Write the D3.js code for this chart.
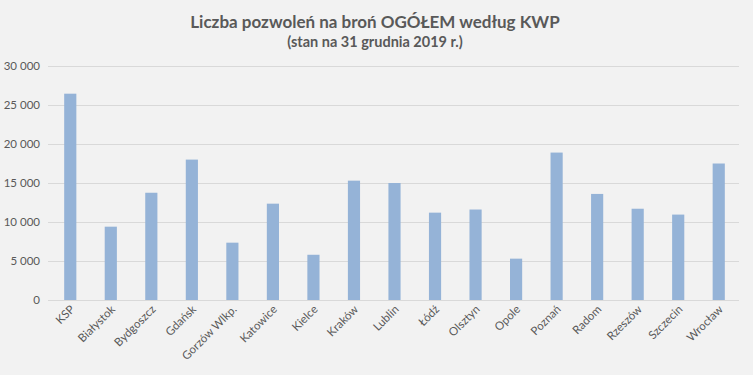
<!DOCTYPE html>
<html>
<head>
<meta charset="utf-8">
<script src="https://cdn.jsdelivr.net/npm/d3@7"></script>
<style>
  body { margin: 0; background: #f2f2f2; }
  text { font-family: Lato, "Open Sans", sans-serif; }
</style>
</head>
<body>
<script>
// dane
const kategorie = ["KSP", "Białystok", "Bydgoszcz", "Gdańsk", "Gorzów Wlkp.", "Katowice", "Kielce", "Kraków",
  "Lublin", "Łódź", "Olsztyn", "Opole", "Poznań", "Radom", "Rzeszów", "Szczecin", "Wrocław"]
const wartosci = [26450, 9400, 13750, 18000, 7350, 12350, 5800, 15300,
  15000, 11200, 11600, 5300, 18900, 13600, 11700, 10950, 17500]
const yTicks = [0, 5000, 10000, 15000, 20000, 25000, 30000]

const W = 753, H = 375
const m = { left: 50, right: 14, top: 66, bottom: 75 }

const svg = d3.select("body")
  .append("svg")
  .attr("width", W)
  .attr("height", H)
  .style("background-color", "#f2f2f2")

const x = d3.scaleBand()
  .domain(kategorie)
  .range([m.left, W - m.right])
  .paddingInner(0.7)
  .paddingOuter(0.35)

const y = d3.scaleLinear()
  .domain([0, 30000])
  .range([H - m.bottom, m.top])

const fmt = d => d === 0 ? "0" : d3.format(",")(d).replace(",", " ")

// siatka
svg.append("g")
  .selectAll("line")
  .data(yTicks)
  .enter()
  .append("line")
  .attr("x1", m.left - 2)
  .attr("x2", W - m.right)
  .attr("y1", d => Math.round(y(d)) + 0.5)
  .attr("y2", d => Math.round(y(d)) + 0.5)
  .attr("stroke", "#d9d9d9")
  .attr("stroke-width", 1)

// etykiety osi Y
const yAxis = svg.append("g")
  .attr("transform", `translate(${m.left - 10},0)`)
  .call(d3.axisLeft(y).tickValues(yTicks).tickFormat(fmt).tickSize(0).tickPadding(0))
yAxis.select(".domain").remove()
yAxis.selectAll("text")
  .attr("fill", "#595959")
  .style("font-size", "11.5px")

// słupki
svg.append("g")
  .selectAll("rect")
  .data(wartosci)
  .enter()
  .append("rect")
  .attr("x", (d, i) => x(kategorie[i]))
  .attr("y", d => y(d))
  .attr("width", x.bandwidth())
  .attr("height", d => y(0) - y(d))
  .attr("fill", "#95b3d7")

// etykiety osi X
const xAxis = svg.append("g")
  .attr("transform", `translate(0,${y(0)})`)
  .call(d3.axisBottom(x).tickSize(0).tickPadding(0))
xAxis.select(".domain").remove()
xAxis.selectAll("text")
  .attr("fill", "#595959")
  .style("font-size", "11.5px")
  .attr("text-anchor", "end")
  .attr("dy", null)
  .attr("transform", "translate(5,10) rotate(-45)")

// tytuł
svg.append("text")
  .attr("x", 375)
  .attr("y", 28)
  .attr("text-anchor", "middle")
  .attr("fill", "#595959")
  .style("font-size", "17px")
  .style("font-weight", "bold")
  .text("Liczba pozwoleń na broń OGÓŁEM według KWP")

svg.append("text")
  .attr("x", 375)
  .attr("y", 47)
  .attr("text-anchor", "middle")
  .attr("fill", "#595959")
  .style("font-size", "14.5px")
  .style("font-weight", "bold")
  .text("(stan na 31 grudnia 2019 r.)")
</script>
</body>
</html>
